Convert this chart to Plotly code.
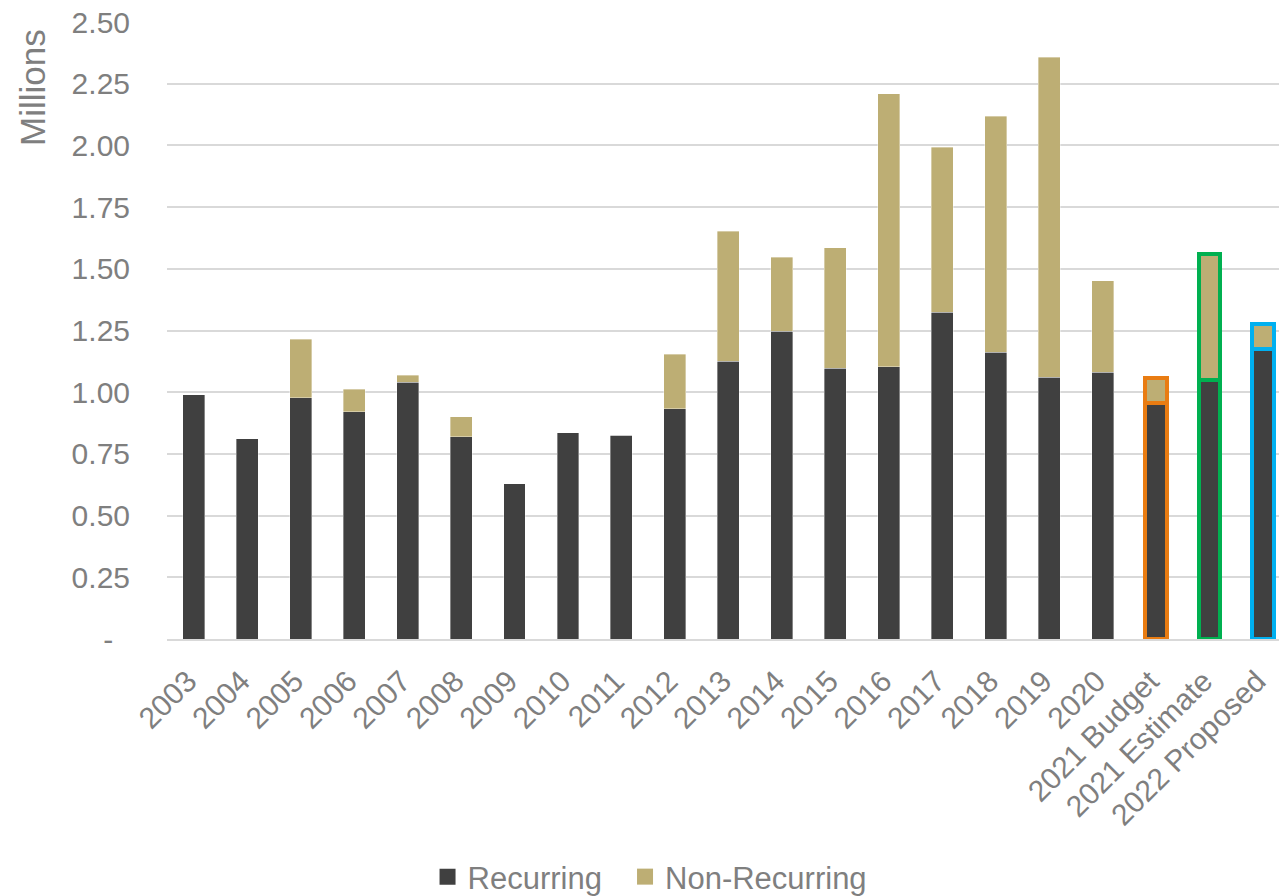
import plotly.graph_objects as go

# Annual revenue, in millions
categories = ["2003", "2004", "2005", "2006", "2007", "2008", "2009", "2010",
              "2011", "2012", "2013", "2014", "2015", "2016", "2017", "2018",
              "2019", "2020", "2021 Budget", "2021 Estimate", "2022 Proposed"]
recurring = [0.990, 0.812, 0.978, 0.921, 1.041, 0.820, 0.630, 0.836, 0.825,
             0.932, 1.125, 1.247, 1.098, 1.104, 1.323, 1.162, 1.061, 1.080,
             0.957, 1.050, 1.176]
non_recurring = [0.000, 0.000, 0.237, 0.090, 0.028, 0.081, 0.000, 0.000, 0.000,
                 0.222, 0.528, 0.300, 0.488, 1.105, 0.669, 0.956, 1.297, 0.371,
                 0.099, 0.509, 0.101]
y_ticks = [0, 0.25, 0.5, 0.75, 1.0, 1.25, 1.5, 1.75, 2.0, 2.25, 2.5]
y_tick_text = ["-\u00a0\u00a0", "0.25", "0.50", "0.75", "1.00", "1.25", "1.50",
               "1.75", "2.00", "2.25", "2.50"]

DARK = "#404040"
TAN = "#BDAE74"
GREY_TEXT = "#7F7F7F"
FONT = "Liberation Sans, Arial, sans-serif"

# Highlight outlines for the forward-looking columns
outline_colors = ["rgba(255,255,255,0.6)"] * 18 + ["#E97C12", "#00B050", "#00B0F0"]
outline_widths = [0.6] * 18 + [4, 4, 4]

x_idx = list(range(len(categories)))
# trailing non-breaking space nudges the rotated labels away from the axis
x_tick_text = [c + "\u00a0" for c in categories]

fig = go.Figure()
fig.add_trace(go.Bar(
    x=x_idx, y=recurring, name="Recurring", showlegend=False,
    marker=dict(color=DARK, line=dict(color=outline_colors, width=outline_widths)),
    width=0.41,
))
fig.add_trace(go.Bar(
    x=x_idx, y=non_recurring, name="Non-Recurring", showlegend=False,
    marker=dict(color=TAN, line=dict(color=outline_colors, width=outline_widths)),
    width=0.41,
))
# Legend keys with larger square swatches, one legend box per series
for name, color, leg in [("Recurring", DARK, "legend"), ("Non-Recurring", TAN, "legend2")]:
    fig.add_trace(go.Scatter(
        x=[None], y=[None], mode="markers", name=name, legend=leg,
        marker=dict(symbol="square", size=16, color=color),
    ))

legend_style = dict(orientation="h", xanchor="left", y=-0.3857, yanchor="middle",
                    font=dict(size=31, color=GREY_TEXT), itemsizing="trace",
                    bgcolor="rgba(0,0,0,0)")

fig.update_layout(
    barmode="stack",
    width=1279, height=896,
    margin=dict(l=167, r=0, t=22, b=257, autoexpand=False),
    paper_bgcolor="white", plot_bgcolor="white",
    font=dict(family=FONT, size=30, color=GREY_TEXT),
    showlegend=True,
    legend=dict(x=0.2343, **legend_style),
    legend2=dict(x=0.4119, **legend_style),
    xaxis=dict(
        tickmode="array", tickvals=x_idx, ticktext=x_tick_text,
        range=[-0.5, 20.3], tickangle=-45, showgrid=False, automargin=False,
        showline=True, linecolor="#D9D9D9", linewidth=1.5,
        ticks="", ticklabelstandoff=5,
        tickfont=dict(size=30, color=GREY_TEXT, family=FONT),
    ),
    yaxis=dict(
        range=[0, 2.5], tickmode="array", tickvals=y_ticks, ticktext=y_tick_text,
        showgrid=True, gridcolor="#D9D9D9", gridwidth=1.5, zeroline=False,
        ticks="", ticklabelstandoff=36, automargin=False,
        tickfont=dict(size=30, color=GREY_TEXT, family=FONT),
    ),
    annotations=[dict(
        text="Millions", textangle=-90, showarrow=False,
        xref="paper", yref="paper", x=-0.1214, y=0.893,
        xanchor="center", yanchor="middle",
        font=dict(size=35, color=GREY_TEXT, family=FONT),
    )],
)

fig.write_html("out.html")
